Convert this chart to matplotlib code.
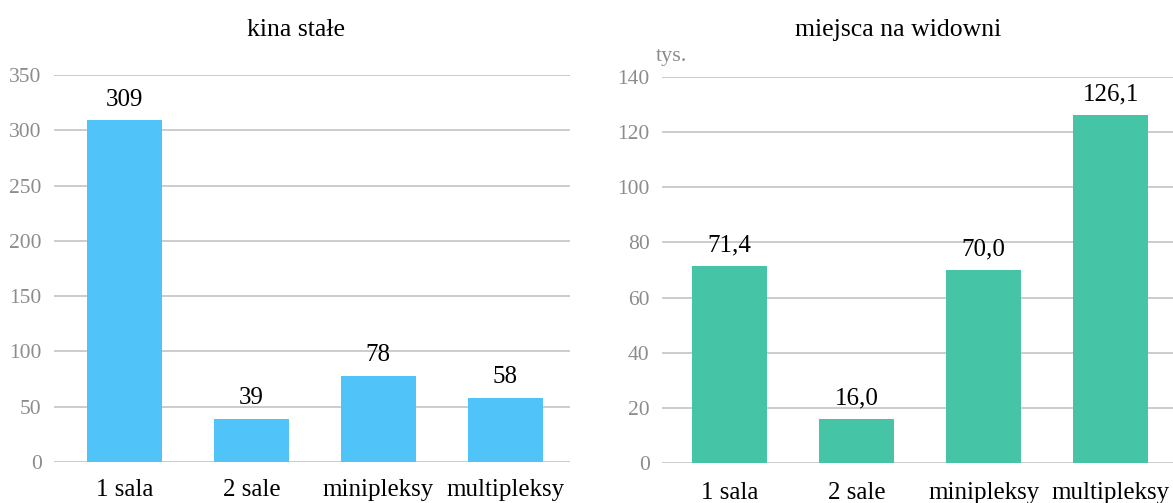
import matplotlib
matplotlib.use("Agg")
from matplotlib import pyplot as plt

plt.rcParams['font.family'] = ['Liberation Serif', 'DejaVu Serif']

categories = ["1 sala", "2 sale", "minipleksy", "multipleksy"]
kina       = [309, 39, 78, 58]
miejsca    = [71.4, 16.0, 70.0, 126.1]

grid_col = "#c8c8c8"
tick_col = "#8c8c8c"

fig = plt.figure(figsize=(11.73, 5.03), dpi=100)

def setup(ax, ymax, step, xpad):
    ax.set_ylim(0, ymax)
    ax.set_yticks(range(0, ymax + 1, step))
    for s in ax.spines.values():
        s.set_visible(False)
    ax.yaxis.grid(True, color=grid_col, linewidth=1.3)
    ax.set_axisbelow(True)
    ax.tick_params(axis='y', length=0, pad=9, labelsize=15.5, labelcolor=tick_col)
    ax.tick_params(axis='x', length=0, pad=xpad, labelsize=18)
    ax.set_xticks(range(len(categories)))
    ax.set_xticklabels(categories)

# kina stale
ax1 = fig.add_axes([54/1173, 41/503, 516/1173, 387/503])
ax1.bar(range(len(kina)), kina, width=0.59, color="#50c4f8")
setup(ax1, 350, 50, 12.5)
ax1.set_xlim(-0.555, 3.51)
for i, v in enumerate(kina):
    ax1.annotate(str(v), (i, v), xytext=(0, 7), textcoords="offset points",
                 ha="center", va="bottom", fontsize=18)
fig.text(296/1173, 1 - 30/503, "kina stałe", ha="center", va="center", fontsize=18.5)

# miejsca na widowni
ax2 = fig.add_axes([662/1173, 40/503, 511/1173, 386/503])
ax2.bar(range(len(miejsca)), miejsca, width=0.59, color="#45c4a6")
setup(ax2, 140, 20, 14)
ax2.set_xlim(-0.53, 3.49)
for i, v in enumerate(miejsca):
    ax2.annotate(f"{v:.1f}".replace(".", ","), (i, v), xytext=(0, 7),
                 textcoords="offset points", ha="center", va="bottom", fontsize=18)
fig.text(898/1173, 1 - 30/503, "miejsca na widowni", ha="center", va="center", fontsize=18.5)
fig.text(672/1173, 1 - 57/503, "tys.", ha="center", va="center", fontsize=16, color=tick_col)

fig.savefig("out.png", dpi=100)
